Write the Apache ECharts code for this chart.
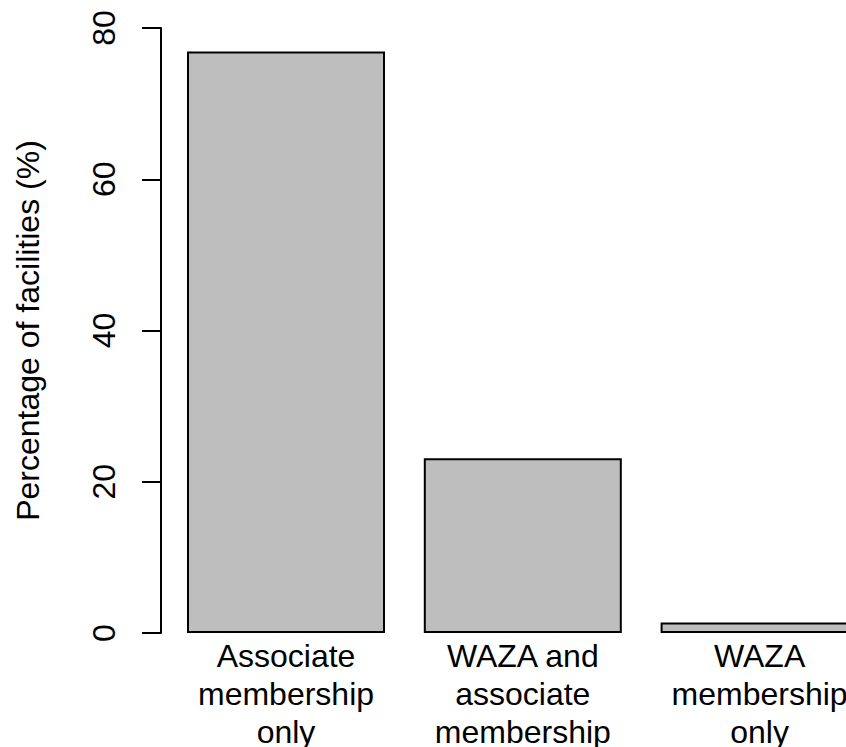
<!DOCTYPE html>
<html>
<head>
<meta charset="UTF-8">
<title>Facilities</title>
<style>
  html, body { margin: 0; padding: 0; background: #fff; overflow: hidden; }
  #main { width: 846px; height: 747px; }
</style>
</head>
<body>
<div id="main"></div>
<script src="https://cdn.jsdelivr.net/npm/echarts@6/dist/echarts.min.js"></script>
<script>
var categories = ['Associate\nmembership\nonly', 'WAZA and\nassociate\nmembership', 'WAZA\nmembership\nonly'];
var percentages = [76.9, 23.1, 1.4];
var yTicks = [0, 20, 40, 60, 80];

var font = 'Liberation Sans, Arial, sans-serif';
var chart = echarts.init(document.getElementById('main'), null, { renderer: 'svg' });

var option = {
  animation: false,
  backgroundColor: '#fff',
  grid: {
    left: 167.6,
    top: 28,
    width: 710.4,
    height: 605,
    containLabel: false,
    outerBoundsMode: 'none'
  },
  xAxis: {
    type: 'category',
    data: categories,
    axisLine: { show: false },
    axisTick: { show: false },
    axisLabel: {
      interval: 0,
      margin: 4,
      color: '#000',
      fontSize: 32,
      lineHeight: 38,
      fontFamily: font
    }
  },
  yAxis: {
    type: 'value',
    min: yTicks[0],
    max: yTicks[yTicks.length - 1],
    interval: 20,
    offset: 6.6,
    name: 'Percentage of facilities (%)',
    nameLocation: 'middle',
    nameRotate: 90,
    nameGap: 117,
    nameTextStyle: { color: '#000', fontSize: 32, fontFamily: font },
    axisLine: { show: true, lineStyle: { color: '#000', width: 2 } },
    axisTick: { show: true, length: 19, lineStyle: { color: '#000', width: 2 } },
    axisLabel: {
      rotate: 90,
      margin: 41,
      color: '#000',
      fontSize: 32,
      fontFamily: font
    },
    splitLine: { show: false }
  },
  series: [{
    type: 'bar',
    data: percentages,
    barWidth: 198,
    itemStyle: {
      color: '#BEBEBE',
      borderColor: '#000',
      borderWidth: 2
    }
  }]
};
chart.setOption(option);
</script>
</body>
</html>
